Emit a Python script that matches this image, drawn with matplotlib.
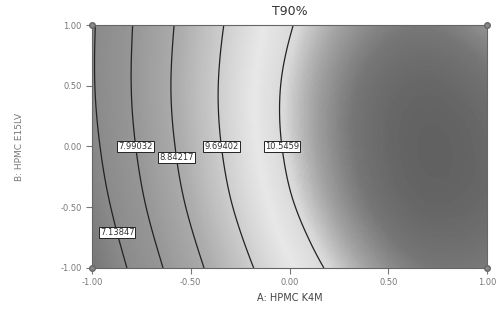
import numpy as np
import matplotlib
matplotlib.use("Agg")
import matplotlib.pyplot as plt
import matplotlib.tri as mtri
from matplotlib.colors import LinearSegmentedColormap

# T90% on a coarse grid (A across, B down the rows)
a_vals = [-1.0, -0.75, -0.5, -0.25, 0.0, 0.25, 0.5, 0.75, 1.0]
b_vals = [-1.0, -0.5, 0.0, 0.5, 1.0]
t90 = [
    [6.25, 7.49, 8.58, 9.48, 10.18, 10.68, 11.02, 11.17, 11.14],  # B = -1
    [6.67, 7.88, 8.94, 9.81, 10.48, 10.95, 11.26, 11.38, 11.32],  # B = -0.5
    [6.94, 8.12, 9.15, 9.99, 10.63, 11.07, 11.35, 11.44, 11.35],  # B = 0
    [7.07, 8.22, 9.22, 10.03, 10.64, 11.05, 11.30, 11.36, 11.24],  # B = 0.5
    [7.06, 8.18, 9.15, 9.93, 10.51, 10.89, 11.11, 11.14, 10.99],  # B = 1
]
levels = [7.13847, 7.99032, 8.84217, 9.69402, 10.5459]
level_text = ["7.13847", "7.99032", "8.84217", "9.69402", "10.5459"]
design_a = [-1, 1, 1, -1]
design_b = [1, 1, -1, -1]
ticks = [-1.0, -0.5, 0.0, 0.5, 1.0]
tick_text = ["-1.00", "-0.50", "0.00", "0.50", "1.00"]

A, B = np.meshgrid(a_vals, b_vals)
T = np.array(t90)

tri = mtri.Triangulation(A.ravel(), B.ravel())
interp = mtri.CubicTriInterpolator(tri, T.ravel())
refiner = mtri.UniformTriRefiner(tri)
tri_f, t_f = refiner.refine_field(T.ravel(), triinterpolator=interp, subdiv=5)

# greyscale print of the usual blue-green-yellow-red map
grey = LinearSegmentedColormap.from_list("grey", [
    (0.00, (0.46, 0.46, 0.46)),
    (0.16, (0.54, 0.54, 0.54)),
    (0.34, (0.59, 0.59, 0.59)),
    (0.53, (0.68, 0.68, 0.68)),
    (0.66, (0.80, 0.80, 0.80)),
    (0.77, (0.91, 0.91, 0.91)),
    (0.84, (0.85, 0.85, 0.85)),
    (0.895, (0.64, 0.64, 0.64)),
    (0.95, (0.46, 0.46, 0.46)),
    (1.00, (0.38, 0.38, 0.38)),
])

fig = plt.figure(figsize=(4.97, 3.23), dpi=100)
ax = fig.add_axes([0.1851, 0.1703, 0.7948, 0.7523])

ax.tripcolor(tri_f, t_f, cmap=grey, shading="gouraud", vmin=6.2, vmax=11.45)
cs = ax.tricontour(tri_f, t_f, levels=levels, colors="#222222", linewidths=0.9)

fmt = dict(zip(levels, level_text))
lbls = ax.clabel(cs, fmt=fmt, fontsize=6, inline=False,
                 manual=[(-0.87, -0.71), (-0.78, 0.0), (-0.58, -0.09),
                         (-0.35, 0.0), (-0.04, 0.0)])
for t in lbls:
    t.set_rotation(0)
    t.set_color("#333333")
    t.set_bbox(dict(boxstyle="square,pad=0.12", fc="white", ec="#222222", lw=0.7))

ax.plot(design_a, design_b, "o", ms=4, mfc="#888888", mec="#666666", clip_on=False, zorder=5)

ax.set_xlim(-1, 1)
ax.set_ylim(-1, 1)
ax.set_xticks(ticks)
ax.set_xticklabels(tick_text)
ax.set_yticks(ticks)
ax.set_yticklabels(tick_text)
ax.tick_params(labelsize=6, colors="#777777", length=4, width=0.8)
for s in ax.spines.values():
    s.set_color("#666666")
    s.set_linewidth(0.8)

ax.set_title("T90%", fontsize=9, color="#333333", pad=7)
ax.set_xlabel("A: HPMC K4M", fontsize=7, color="#444444", labelpad=4)
ax.set_ylabel("B: HPMC E15LV", fontsize=6.5, color="#777777", labelpad=26)

fig.savefig("out.png", dpi=100)
